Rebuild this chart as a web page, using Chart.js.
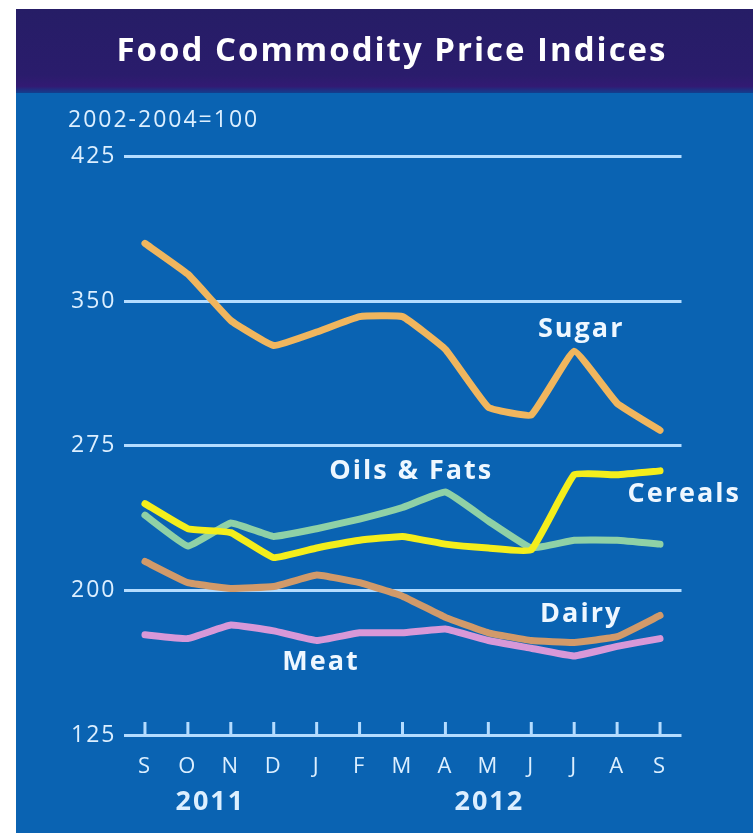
<!DOCTYPE html>
<html>
<head>
<meta charset="utf-8">
<script src="https://cdn.jsdelivr.net/npm/chart.js@4.4.1/dist/chart.umd.min.js"></script>
<style>
  html, body { margin: 0; padding: 0; background: #ffffff; }
  #wrap { position: absolute; left: 16px; top: 9px; width: 737px; height: 824px; }
</style>
</head>
<body>
<div id="wrap"><canvas id="c"></canvas></div>
<script>
// ---- data ----
const chartTitle = 'Food Commodity Price Indices';
const baseNote = '2002-2004=100';
const months = ['S','O','N','D','J','F','M','A','M','J','J','A','S'];
const years = ['2011', '2012'];
const yearStart = [0, 4];
const yearEnd = [3, 12];
const yTicks = [125, 200, 275, 350, 425];

const sugar   = [380, 364, 340, 327, 334, 342, 342, 325, 295, 291, 324, 297, 283];
const cereals = [245, 232, 230, 217, 222, 226, 228, 224, 222, 221, 260, 260, 262];
const oils    = [239, 223, 235, 228, 232, 237, 243, 251, 236, 222, 226, 226, 224];
const dairy   = [215, 204, 201, 202, 208, 204, 197, 186, 178, 174, 173, 176, 187];
const meat    = [177, 175, 182, 179, 174, 178, 178, 180, 174, 170, 166, 171, 175];

const seriesNames = ['Cereals', 'Sugar', 'Oils & Fats', 'Dairy', 'Meat'];

// label anchors (category index, value) for the in-chart series names
const labelAnchors = [
  { text: 'Sugar',       x: 10.14, y: 335.5 },
  { text: 'Oils & Fats', x: 6.18,  y: 262 },
  { text: 'Cereals',     x: 12.54, y: 249.7 },
  { text: 'Dairy',       x: 10.14, y: 187.6 },
  { text: 'Meat',        x: 4.08,  y: 162.8 }
];

const FONT = "'Open Sans', 'Noto Sans', sans-serif";
const GRID = '#b4dcff';
const TEXT = '#dcefff';
const BAR_H = 84;

const bgPlugin = {
  id: 'bg',
  beforeDraw(chart) {
    const ctx = chart.ctx;
    ctx.save();
    ctx.fillStyle = '#0a63b2';
    ctx.fillRect(0, 0, chart.width, chart.height);
    const g = ctx.createLinearGradient(0, 0, 0, BAR_H);
    g.addColorStop(0, '#261d66');
    g.addColorStop(0.78, '#2a1c6c');
    g.addColorStop(0.92, '#321a73');
    g.addColorStop(1, '#123f8e');
    ctx.fillStyle = g;
    ctx.fillRect(0, 0, chart.width, BAR_H);
    // title
    ctx.fillStyle = '#ffffff';
    ctx.font = "bold 33px " + FONT;
    ctx.letterSpacing = '2px';
    ctx.textAlign = 'center';
    ctx.textBaseline = 'middle';
    ctx.fillText(chartTitle, 376, 43);
    ctx.restore();
    // wider tracking for the library's own texts (ticks, subtitle)
    ctx.letterSpacing = '2px';
  }
};

const decoPlugin = {
  id: 'deco',
  beforeDatasetsDraw(chart) {
    const ctx = chart.ctx;
    const xs = chart.scales.x, ys = chart.scales.y;
    const base = ys.getPixelForValue(125);
    ctx.save();
    ctx.strokeStyle = GRID;
    ctx.lineWidth = 3;
    for (let i = 0; i < months.length; i++) {
      const px = xs.getPixelForValue(i);
      ctx.beginPath();
      ctx.moveTo(px, base - 13);
      ctx.lineTo(px, base);
      ctx.stroke();
    }
    ctx.restore();
  },
  afterDraw(chart) {
    const ctx = chart.ctx;
    const xs = chart.scales.x, ys = chart.scales.y;
    ctx.save();
    ctx.letterSpacing = '2px';
    ctx.fillStyle = TEXT;
    ctx.font = "bold 27px " + FONT;
    ctx.textAlign = 'center';
    ctx.textBaseline = 'middle';
    for (let k = 0; k < years.length; k++) {
      const cx = (xs.getPixelForValue(yearStart[k]) + xs.getPixelForValue(yearEnd[k])) / 2;
      ctx.fillText(years[k], cx + 1, ys.bottom + 67);
    }
    ctx.font = "bold 27px " + FONT;
    ctx.fillStyle = '#eef7ff';
    for (const a of labelAnchors) {
      ctx.fillText(a.text, xs.getPixelForValue(a.x) + 1, ys.getPixelForValue(a.y));
    }
    ctx.restore();
  }
};

function ds(label, data, color) {
  return {
    label, data,
    borderColor: color,
    backgroundColor: color,
    borderWidth: 7,
    pointRadius: 0,
    tension: 0.1,
    borderCapStyle: 'round',
    borderJoinStyle: 'round',
    fill: false
  };
}

new Chart(document.getElementById('c'), {
  type: 'line',
  data: {
    labels: months,
    datasets: [
      ds(seriesNames[0], cereals, '#f4ee1c'),
      ds(seriesNames[1], sugar,   '#f0b65e'),
      ds(seriesNames[2], oils,    '#8fd1a6'),
      ds(seriesNames[3], dairy,   '#d19a6a'),
      ds(seriesNames[4], meat,    '#d898d8')
    ]
  },
  options: {
    responsive: true,
    maintainAspectRatio: false,
    animation: false,
    events: [],
    layout: { padding: { left: 52, right: 71.5, top: BAR_H, bottom: 0 } },
    plugins: {
      legend: { display: false },
      tooltip: { enabled: false },
      title: { display: false },
      subtitle: {
        display: true,
        text: baseNote,
        align: 'start',
        color: TEXT,
        font: { family: FONT, size: 23, lineHeight: 1.2 },
        padding: { top: 14, bottom: 22 }
      }
    },
    scales: {
      x: {
        type: 'category',
        offset: true,
        grid: { display: false, drawTicks: false },
        border: { display: false },
        ticks: {
          color: TEXT,
          font: { family: FONT, size: 22 },
          padding: 19,
          maxRotation: 0,
          autoSkip: false
        },
        afterFit(scale) { scale.height = 98; }
      },
      y: {
        min: 125,
        max: 425,
        afterBuildTicks(scale) { scale.ticks = yTicks.map(v => ({ value: v })); },
        grid: { color: GRID, lineWidth: 3, drawTicks: false },
        border: { display: false },
        ticks: {
          color: TEXT,
          font: { family: FONT, size: 23 },
          padding: 7
        },
        afterFit(scale) { scale.width = 55.5; }
      }
    }
  },
  plugins: [bgPlugin, decoPlugin]
});
</script>
</body>
</html>
